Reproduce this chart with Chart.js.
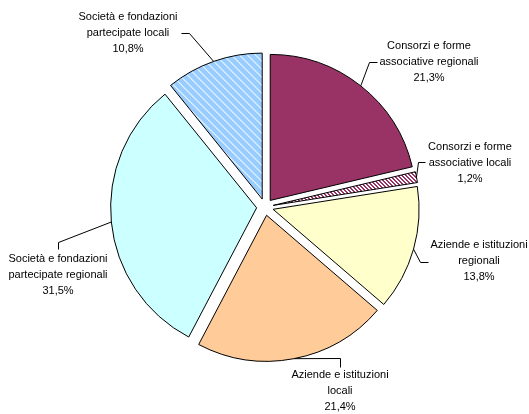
<!DOCTYPE html>
<html lang="it">
<head>
<meta charset="UTF-8">
<title>Partecipazioni</title>
<style>
  body { margin: 0; background: #fff; }
  #wrap { width: 529px; height: 414px; }
</style>
</head>
<body>
<div id="wrap"><canvas id="myChart" width="529" height="414"></canvas></div>
<script src="https://cdn.jsdelivr.net/npm/chart.js"></script>
<script>
// data
const categories = [
  ['Consorzi e forme', 'associative regionali'],
  ['Consorzi e forme', 'associative locali'],
  ['Aziende e istituzioni', 'regionali'],
  ['Aziende e istituzioni', 'locali'],
  ['Società e fondazioni', 'partecipate regionali'],
  ['Società e fondazioni', 'partecipate locali']
];
const shares = [21.3, 1.2, 13.8, 21.4, 31.5, 10.8];
const shareLabels = ['21,3%', '1,2%', '13,8%', '21,4%', '31,5%', '10,8%'];

// where the label text goes (centre of first row) and the bends of its leader line
const labelSpots = [
  { x: 429, y: 46, elbow: [369, 62], end: [377, 62] },
  { x: 470, y: 147, elbow: [418, 162], end: [425, 162] },
  { x: 479, y: 245, elbow: [420, 262], end: [428, 262] },
  { x: 340, y: 375, elbow: [340, 358], end: [340, 367] },
  { x: 58, y: 259, elbow: [58, 242], end: [58, 249] },
  { x: 128, y: 17, elbow: [189, 33], end: [181, 33] }
];

const EXPLODE = 8.4;   // how far each slice is pulled out
const LINE_STEP = 16;

// striped fills
function stripes(size, base, stripe, width) {
  const c = document.createElement('canvas');
  c.width = size; c.height = size;
  const g = c.getContext('2d');
  g.fillStyle = base;
  g.fillRect(0, 0, size, size);
  g.fillStyle = stripe;
  for (let y = 0; y < size; y++) {
    for (let x = 0; x < size; x++) {
      const d = ((x - y) % size + size) % size;
      if (d < width) g.fillRect(x, y, 1, 1);
    }
  }
  return g.createPattern(c, 'repeat');
}

const ctx = document.getElementById('myChart').getContext('2d');

const colors = [
  '#993366',
  stripes(4, '#993366', '#ffffff', 2),
  '#ffffcc',
  '#ffcc99',
  '#ccffff',
  stripes(8, '#99ccff', '#d4eaff', 2)
];

// pull every slice out along its middle angle
const explodePlugin = {
  id: 'explode',
  beforeDatasetsDraw(chart) {
    chart.getDatasetMeta(0).data.forEach(arc => {
      const mid = (arc.startAngle + arc.endAngle) / 2;
      arc._bx = arc.x; arc._by = arc.y;
      arc.x += Math.cos(mid) * EXPLODE;
      arc.y += Math.sin(mid) * EXPLODE;
    });
  },
  afterDatasetsDraw(chart) {
    const c = chart.ctx;
    const arcs = chart.getDatasetMeta(0).data;
    c.save();
    c.strokeStyle = '#000';
    c.lineWidth = 1;
    c.fillStyle = '#000';
    c.font = '11px "Liberation Sans", Arial, sans-serif';
    c.textAlign = 'center';
    c.textBaseline = 'middle';
    arcs.forEach((arc, i) => {
      const spot = labelSpots[i];
      const mid = (arc.startAngle + arc.endAngle) / 2;
      const px = arc.x + Math.cos(mid) * arc.outerRadius;
      const py = arc.y + Math.sin(mid) * arc.outerRadius;
      c.beginPath();
      c.moveTo(px, py);
      c.lineTo(spot.elbow[0] + 0.5, spot.elbow[1] + 0.5);
      c.lineTo(spot.end[0] + 0.5, spot.end[1] + 0.5);
      c.stroke();
      const rows = categories[i].concat([shareLabels[i]]);
      rows.forEach((t, k) => c.fillText(t, spot.x, spot.y + k * LINE_STEP));
    });
    c.restore();
    arcs.forEach(arc => { arc.x = arc._bx; arc.y = arc._by; });
  }
};

const myChart = new Chart(ctx, {
  type: 'pie',
  data: {
    labels: categories,
    datasets: [{
      data: shares,
      backgroundColor: colors,
      borderColor: '#000',
      borderWidth: 1,
      borderJoinStyle: 'miter'
    }]
  },
  options: {
    responsive: false,
    animation: false,
    radius: 146,
    layout: { padding: { left: 20, right: 19, top: 20, bottom: 20 } },
    plugins: {
      legend: { display: false },
      tooltip: { enabled: false }
    }
  },
  plugins: [explodePlugin]
});
</script>
</body>
</html>
